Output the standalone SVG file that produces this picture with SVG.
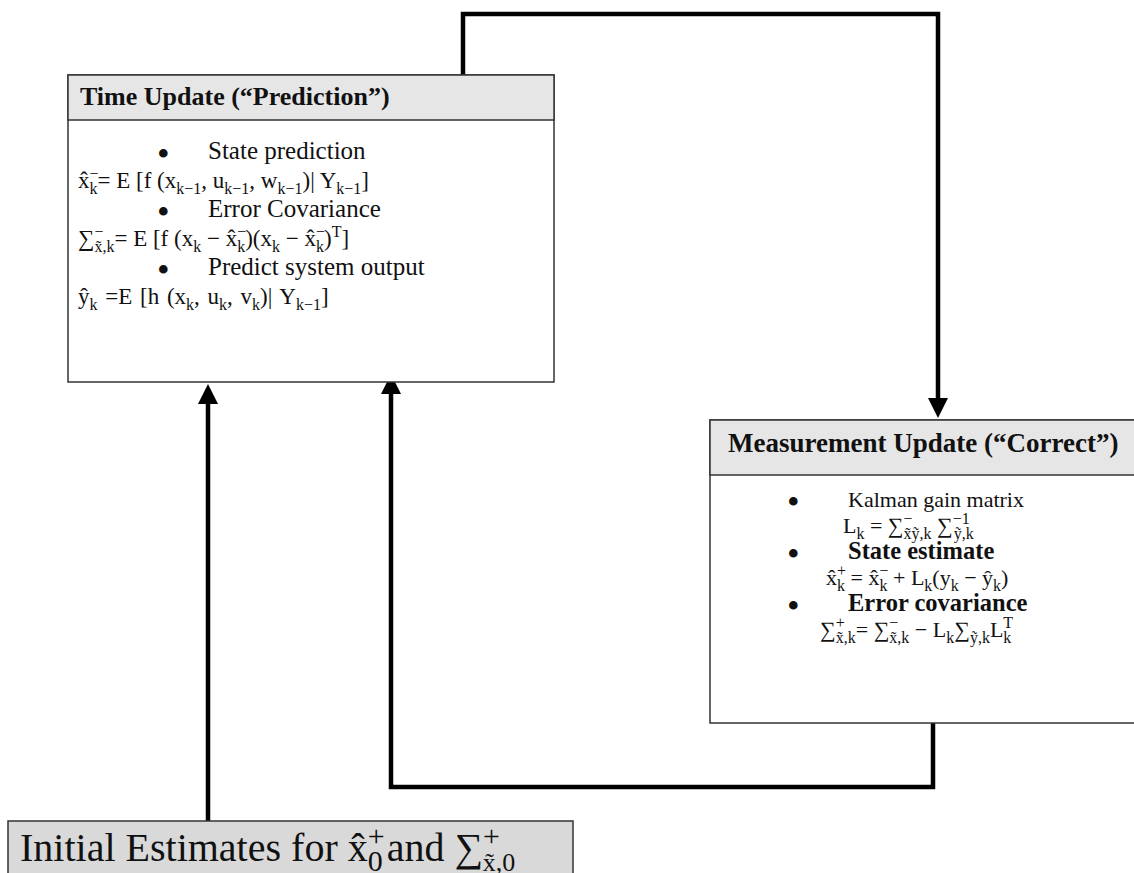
<svg xmlns="http://www.w3.org/2000/svg" width="1134" height="873" viewBox="0 0 1134 873">
<defs>
<marker id="ah" markerUnits="userSpaceOnUse" markerWidth="20" markerHeight="22" refX="0" refY="10" orient="auto">
<path d="M0,0 L20,10 L0,20 Z" fill="#000"/>
</marker>
<style>
.box{fill:#fff;stroke:#333;stroke-width:1.5}
.hdr{fill:#e6e6e6;stroke:#333;stroke-width:1.5}
.ini{fill:#d9d9d9;stroke:#333;stroke-width:1.5}
text{font-family:"Liberation Serif","Times New Roman",serif;fill:#111}
.t{font-size:25px}
.m{font-size:23px}
.mm{font-size:22px}
.b1{font-size:26px;font-weight:bold}
.b2{font-size:27px;font-weight:bold}
.bb{font-size:24.5px;font-weight:bold}
.bul{font-size:36px}
.s{font-size:16px}
.conn{fill:none;stroke:#000;stroke-width:4.5;stroke-linejoin:miter}
</style>
</defs>

<g id="connectors">
<polyline class="conn" points="463,75 463,14 938,14 938,398" marker-end="url(#ah)"/>
<polyline class="conn" points="933,723 933,787 391,787 391,394" marker-end="url(#ah)"/>
<polyline class="conn" points="208,821 208,404" marker-end="url(#ah)"/>
</g>

<g id="time-update">
<rect class="box" x="68" y="75" width="486" height="307"/>
<rect class="hdr" x="68" y="75" width="486" height="45"/>
<text class="b1" x="80" y="105">Time Update (“Prediction”)</text>
<text class="bul" x="157" y="166">•</text>
<text class="t" x="208" y="159">State prediction</text>
<text class="m" x="78" y="188">x̂<tspan class="s" dy="-9">−</tspan><tspan class="s" dx="-9" dy="15">k</tspan><tspan dy="-6">= E [f (x</tspan><tspan class="s" dy="6">k−1</tspan><tspan dy="-6">, u</tspan><tspan class="s" dy="6">k−1</tspan><tspan dy="-6">, w</tspan><tspan class="s" dy="6">k−1</tspan><tspan dy="-6">)| Y</tspan><tspan class="s" dy="6">k−1</tspan><tspan dy="-6">]</tspan></text>
<text class="bul" x="157" y="224">•</text>
<text class="t" x="208" y="217">Error Covariance</text>
<text class="m" x="78" y="246">∑<tspan class="s" dy="-9">−</tspan><tspan class="s" dx="-9" dy="15">x̃,k</tspan><tspan dy="-6">= E [f (x</tspan><tspan class="s" dy="6">k</tspan><tspan dy="-6"> − x̂</tspan><tspan class="s" dy="-9">−</tspan><tspan class="s" dx="-9" dy="15">k</tspan><tspan dy="-6">)(x</tspan><tspan class="s" dy="6">k</tspan><tspan dy="-6"> − x̂</tspan><tspan class="s" dy="-9">−</tspan><tspan class="s" dx="-9" dy="15">k</tspan><tspan dy="-6">)</tspan><tspan class="s" dy="-9">T</tspan><tspan dy="9">]</tspan></text>
<text class="bul" x="157" y="282">•</text>
<text class="t" x="208" y="275">Predict system output</text>
<text class="m" x="78" y="304" word-spacing="2">ŷ<tspan class="s" dy="6">k</tspan><tspan dy="-6"> =E [h (x</tspan><tspan class="s" dy="6">k</tspan><tspan dy="-6">, u</tspan><tspan class="s" dy="6">k</tspan><tspan dy="-6">, v</tspan><tspan class="s" dy="6">k</tspan><tspan dy="-6">)| Y</tspan><tspan class="s" dy="6">k−1</tspan><tspan dy="-6">]</tspan></text>
</g>

<g id="measurement-update">
<rect class="box" x="710" y="420" width="430" height="303"/>
<rect class="hdr" x="710" y="420" width="430" height="55"/>
<text class="b2" x="728" y="452">Measurement Update (“Correct”)</text>
<text class="bul" x="787" y="514">•</text>
<text class="mm" x="848" y="507">Kalman gain matrix</text>
<text class="mm" x="843" y="533">L<tspan class="s" dy="6">k</tspan><tspan dy="-6"> = ∑</tspan><tspan class="s" dy="-9">−</tspan><tspan class="s" dx="-9" dy="15">x̃ỹ,k</tspan><tspan dy="-6"> ∑</tspan><tspan class="s" dy="-9">−1</tspan><tspan class="s" dx="-16" dy="15">ỹ,k</tspan></text>
<text class="bul" x="787" y="566">•</text>
<text class="bb" x="848" y="559">State estimate</text>
<text class="mm" x="826" y="585">x̂<tspan class="s" dy="-9">+</tspan><tspan class="s" dx="-9" dy="15">k</tspan><tspan dy="-6"> = x̂</tspan><tspan class="s" dy="-9">−</tspan><tspan class="s" dx="-9" dy="15">k</tspan><tspan dy="-6"> + L</tspan><tspan class="s" dy="6">k</tspan><tspan dy="-6">(y</tspan><tspan class="s" dy="6">k</tspan><tspan dy="-6"> − ŷ</tspan><tspan class="s" dy="6">k</tspan><tspan dy="-6">)</tspan></text>
<text class="bul" x="787" y="618">•</text>
<text class="bb" x="848" y="611">Error covariance</text>
<text class="mm" x="820" y="637">∑<tspan class="s" dy="-9">+</tspan><tspan class="s" dx="-9" dy="15">x̃,k</tspan><tspan dy="-6">= ∑</tspan><tspan class="s" dy="-9">−</tspan><tspan class="s" dx="-9" dy="15">x̃,k</tspan><tspan dy="-6"> − L</tspan><tspan class="s" dy="6">k</tspan><tspan dy="-6">∑</tspan><tspan class="s" dy="6">ỹ,k</tspan><tspan dy="-6">L</tspan><tspan class="s" dy="-9">T</tspan><tspan class="s" dx="-10" dy="15">k</tspan></text>
</g>

<g id="initial-estimates">
<rect class="ini" x="8" y="821" width="565" height="60"/>
<text x="20" y="861" style="font-size:40px">Initial Estimates for x̂<tspan style="font-size:30px" dy="-15">+</tspan><tspan style="font-size:30px" dx="-17" dy="25">0</tspan><tspan dx="4" dy="-10">and ∑</tspan><tspan style="font-size:30px" dy="-15">+</tspan><tspan style="font-size:26px" dx="-17" dy="25">x̃,0</tspan></text>
</g>
</svg>
